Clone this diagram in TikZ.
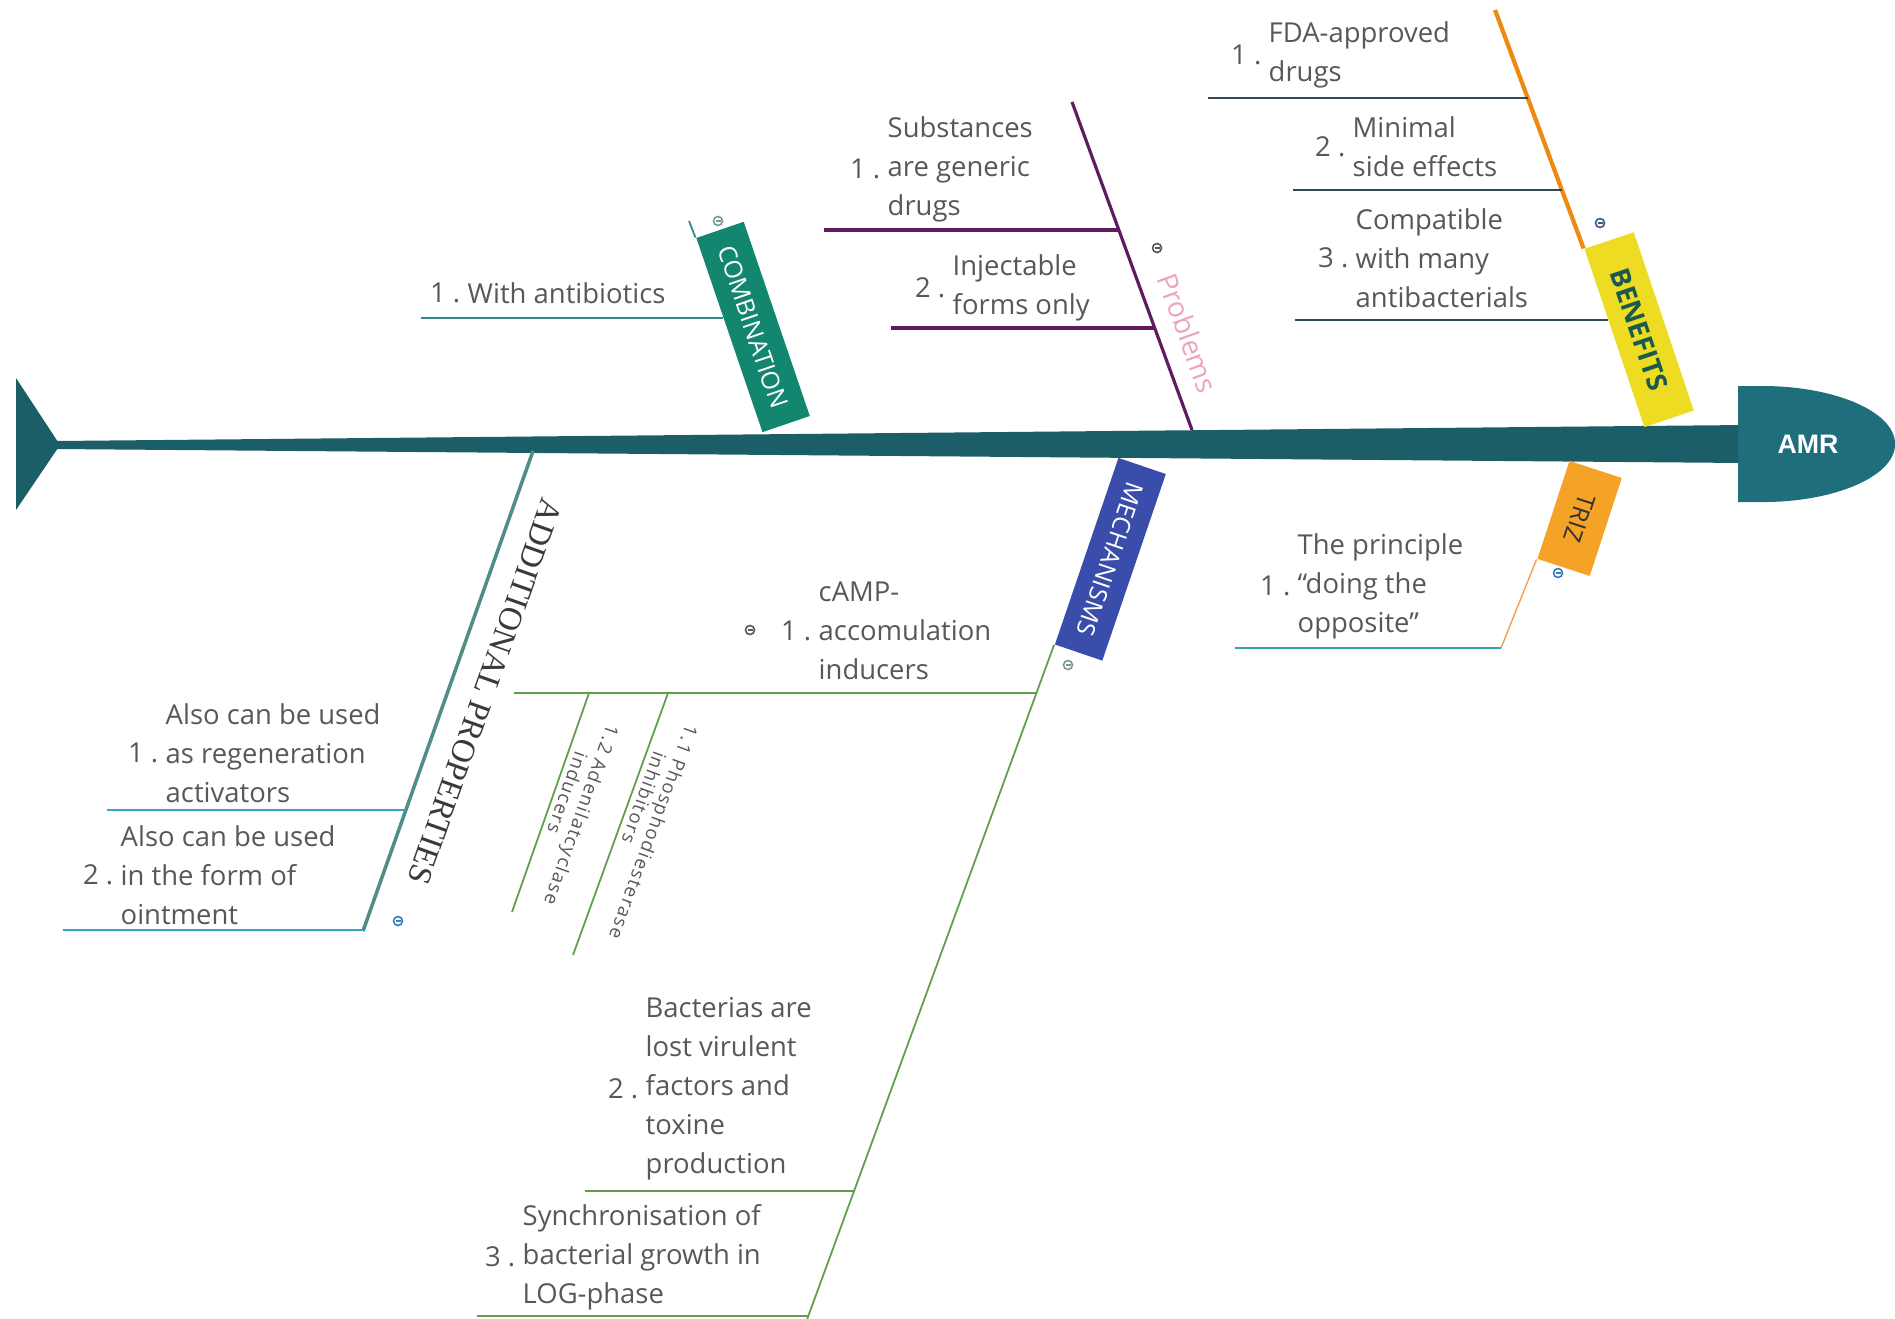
\documentclass[tikz,border=0pt]{standalone}
\usepackage{fontspec}
\setmainfont{Open Sans}
\newfontfamily\serifcap{Liberation Serif}
\newfontfamily\headsans{Liberation Sans}
\newfontfamily\spacedsans[LetterSpace=8]{Open Sans}
\definecolor{spinecol}{HTML}{1B5E68}
\definecolor{headcol}{HTML}{1E6E7C}
\definecolor{combgreen}{HTML}{12866F}
\definecolor{mechblue}{HTML}{3A4DAA}
\definecolor{beneyellow}{HTML}{EDDC22}
\definecolor{benetext}{HTML}{1A5A4E}
\definecolor{trizorange}{HTML}{F4A326}
\definecolor{triztext}{HTML}{333333}
\definecolor{beneorange}{HTML}{EE8A12}
\definecolor{trizline}{HTML}{F0A050}
\definecolor{probpurple}{HTML}{5E1C60}
\definecolor{probpink}{HTML}{EBA7BA}
\definecolor{addline}{HTML}{4F8E87}
\definecolor{addtext}{HTML}{3A3A3A}
\definecolor{mechline}{HTML}{5E9E4E}
\definecolor{tealitem}{HTML}{2E8A8A}
\definecolor{benitem}{HTML}{2E4A52}
\definecolor{additem}{HTML}{35A3C5}
\definecolor{trizitem}{HTML}{2FA5A5}
\definecolor{itemgrey}{HTML}{585858}
\definecolor{collgrey}{HTML}{7A9A90}
\definecolor{colldark}{HTML}{555555}
\definecolor{collslate}{HTML}{3A5A80}
\definecolor{collblue}{HTML}{3A7AC0}
\begin{document}
\begin{tikzpicture}[x=0.01cm, y=-0.01cm,
  itemtext/.style={inner sep=0pt, align=left, anchor=west, text=itemgrey, font=\fontsize{7.8}{11.1}\selectfont},
  itemnum/.style={inner sep=0pt, anchor=east, text=itemgrey, font=\fontsize{7.8}{11.1}\selectfont},
  catbox/.style={rectangle, inner sep=0pt, minimum height=0.5cm, font=\fontsize{7}{8}\selectfont},
  subtext/.style={inner sep=0pt, align=left, anchor=north west, text=itemgrey, font=\spacedsans\fontsize{5.3}{5.9}\selectfont},
  collapse/.style={circle, draw=#1, line width=0.45pt, minimum size=0.09cm, inner sep=0pt,
    path picture={\draw[#1, line width=0.45pt] ([xshift=0.02cm]path picture bounding box.west) -- ([xshift=-0.02cm]path picture bounding box.east);}},
]
\fill[white] (0,0) rectangle (1895,1318);
\useasboundingbox (0,0) rectangle (1895,1318);

% spine, tail and head
\fill[spinecol] (56,441) -- (1745,425) -- (1745,463) -- (56,449) -- cycle;
\fill[spinecol] (16,378) -- (60,445) -- (16,510) -- cycle;
\fill[headcol] (1738,386) -- (1762,386) arc[start angle=90, end angle=-90, x radius=1.33cm, y radius=0.58cm] -- (1738,502) -- cycle;
\node[text=white, font=\headsans\bfseries\fontsize{7.6}{9}\selectfont] (amr) at (1808,444) {AMR};

% COMBINATION
\coordinate (cbtop) at (689,221);
\coordinate (cbfoot) at (762,433);
\node[catbox, fill=combgreen, text=white, minimum width=2.05cm, rotate=-71.2, anchor=south east] (comb) at (cbfoot) {COMBINATION};
\draw[tealitem, line width=0.5pt] (cbtop) -- (comb.south west);
\coordinate (c1a) at (421,318); \coordinate (c1b) at (723,318);
\draw[tealitem, line width=0.6pt] (c1a) -- (c1b);
\node[itemtext] (c1) at (467,293) {With antibiotics};
\node[itemnum] (c1n) at ([xshift=-0.06cm]c1.west) {1 .};
\node[collapse=collgrey] (cbc) at (718,221) {};

% Problems
\coordinate (pbtop) at (1072,102); \coordinate (pbfoot) at (1192,430);
\draw[probpurple, line width=0.9pt] (pbtop) -- (pbfoot);
\coordinate (p1a) at (824,230); \coordinate (p1b) at (1119,230);
\coordinate (p2a) at (891,328); \coordinate (p2b) at (1155,328);
\draw[probpurple, line width=1.2pt] (p1a) -- (p1b);
\draw[probpurple, line width=1.2pt] (p2a) -- (p2b);
\node[itemtext] (p1) at (887,169) {Substances\\are generic\\drugs};
\node[itemnum] (p1n) at ([xshift=-0.06cm]p1.west) {1 .};
\node[itemtext] (p2) at (952,288) {Injectable\\forms only};
\node[itemnum] (p2n) at ([xshift=-0.06cm]p2.west) {2 .};
\node[collapse=colldark] (pbc) at (1157,248) {};
\node[text=probpink, rotate=-69.9, font=\fontsize{8}{9}\selectfont, inner sep=0pt] (prob) at (1188,333) {Problems};

% BENEFITS
\coordinate (bntop) at (1495,10); \coordinate (bnfoot) at (1644,428);
\node[catbox, fill=beneyellow, text=benetext, minimum width=1.88cm, minimum height=0.52cm, rotate=-71.4, anchor=south east, font=\bfseries\fontsize{7.8}{9}\selectfont] (bene) at (bnfoot) {BENEFITS};
\draw[beneorange, line width=1.2pt] (bntop) -- (bene.south west);
\coordinate (b1a) at (1208,98); \coordinate (b1b) at (1528,98);
\coordinate (b2a) at (1293,190); \coordinate (b2b) at (1562,190);
\coordinate (b3a) at (1295,320); \coordinate (b3b) at (1608,320);
\draw[benitem, line width=0.6pt] (b1a) -- (b1b);
\draw[benitem, line width=0.6pt] (b2a) -- (b2b);
\draw[benitem, line width=0.6pt] (b3a) -- (b3b);
\node[itemtext] (b1) at (1268,55) {FDA-approved\\drugs};
\node[itemnum] (b1n) at ([xshift=-0.06cm]b1.west) {1 .};
\node[itemtext] (b2) at (1352,147) {Minimal\\side effects};
\node[itemnum] (b2n) at ([xshift=-0.06cm]b2.west) {2 .};
\node[itemtext] (b3) at (1355,258) {Compatible\\with many\\antibacterials};
\node[itemnum] (b3n) at ([xshift=-0.06cm]b3.west) {3 .};
\node[collapse=collslate] (bnc) at (1600,223) {};

% TRIZ
\coordinate (trhead) at (1569,460);
\node[catbox, fill=trizorange, text=triztext, minimum width=1.03cm, minimum height=0.55cm, rotate=-108.1, anchor=south west] (triz) at (trhead) {TRIZ};
\coordinate (t1a) at (1235,648); \coordinate (t1b) at (1501,648);
\draw[trizline, line width=0.4pt] (triz.south east) -- (t1b);
\draw[trizitem, line width=0.7pt] (t1a) -- (t1b);
\node[itemtext] (t1) at (1297,586) {The principle\\“doing the\\opposite”};
\node[itemnum] (t1n) at ([xshift=-0.06cm]t1.west) {1 .};
\node[collapse=collblue] (trc) at (1558,573) {};

% MECHANISMS
\coordinate (mchead) at (1118,457);
\node[catbox, fill=mechblue, text=white, minimum width=1.97cm, rotate=-108.8, anchor=south west] (mech) at (mchead) {MECHANISMS};
\coordinate (mbot) at (805,1325);
\draw[mechline, line width=0.5pt] (mech.south east) -- (mbot);
\coordinate (m1a) at (514,693); \coordinate (m1b) at (1037,693);
\coordinate (m2a) at (585,1191); \coordinate (m2b) at (854,1191);
\coordinate (m3a) at (477,1316); \coordinate (m3b) at (808,1316);
\draw[mechline, line width=0.6pt] (m1a) -- (m1b);
\draw[mechline, line width=0.6pt] (m2a) -- (m2b);
\draw[mechline, line width=0.6pt] (m3a) -- (m3b);
\node[itemtext] (m1) at (818,631) {cAMP-\\accomulation\\inducers};
\node[itemnum] (m1n) at ([xshift=-0.06cm]m1.west) {1 .};
\node[collapse=itemgrey] (m1c) at (750,630) {};
\node[itemtext] (m2) at (645,1089) {Bacterias are\\lost virulent\\factors and\\toxine\\production};
\node[itemnum] (m2n) at ([xshift=-0.06cm]m2.west) {2 .};
\node[itemtext] (m3) at (522,1257) {Synchronisation of\\bacterial growth in\\LOG-phase};
\node[itemnum] (m3n) at ([xshift=-0.06cm]m3.west) {3 .};
\node[collapse=collgrey] (mcc) at (1068,665) {};

% sub-items of cAMP
\coordinate (s11a) at (668,693); \coordinate (s11b) at (573,955);
\coordinate (s12a) at (589,693); \coordinate (s12b) at (512,912);
\draw[mechline, line width=0.5pt] (s11a) -- (s11b);
\draw[mechline, line width=0.5pt] (s12a) -- (s12b);
\node[subtext, rotate=-109.9] (s11) at (700,728) {1.1 Phosphodiesterase\\\hphantom{1.1 }inhibitors};
\node[subtext, rotate=-109.4] (s12) at (621,728) {1.2 Adenilatcyclase\\\hphantom{1.2 }inducers};

% ADDITIONAL PROPERTIES
\coordinate (adtop) at (533,451); \coordinate (adbot) at (363,931);
\draw[addline, line width=1pt] (adtop) -- (adbot);
\node[rotate=-109.5, text=addtext, font=\serifcap\fontsize{9.4}{11}\selectfont, inner sep=0pt] (addl) at (485,692) {ADDITIONAL PROPERTIES};
\coordinate (a1a) at (107,810); \coordinate (a1b) at (406,810);
\coordinate (a2a) at (63,930); \coordinate (a2b) at (363,930);
\draw[additem, line width=0.6pt] (a1a) -- (a1b);
\draw[additem, line width=0.6pt] (a2a) -- (a2b);
\node[itemtext] (a1) at (165,753) {Also can be used\\as regeneration\\activators};
\node[itemnum] (a1n) at ([xshift=-0.06cm]a1.west) {1 .};
\node[itemtext] (a2) at (120,875) {Also can be used\\in the form of\\ointment};
\node[itemnum] (a2n) at ([xshift=-0.06cm]a2.west) {2 .};
\node[collapse=collblue] (adc) at (398,921) {};
\end{tikzpicture}
\end{document}
